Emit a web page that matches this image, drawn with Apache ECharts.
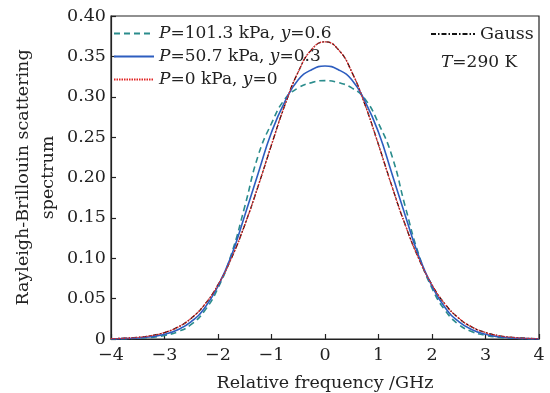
<!DOCTYPE html>
<html>
<head>
<meta charset="utf-8">
<script src="https://cdn.jsdelivr.net/npm/echarts@6/dist/echarts.min.js"></script>
<style>html,body{margin:0;padding:0;background:#fff}#c{width:550px;height:393px}</style>
</head>
<body>
<div id="c"></div>
<script>
var freq = [-4,-3.75,-3.5,-3.25,-3,-2.75,-2.5,-2.25,-2,-1.75,-1.5,-1.25,-1,-0.75,-0.5,-0.25,0,0.25,0.5,0.75,1,1.25,1.5,1.75,2,2.25,2.5,2.75,3,3.25,3.5,3.75,4];
var p101 = [0.0001,0.0004,0.0010,0.0020,0.0045,0.0090,0.0180,0.0350,0.0630,0.1050,0.1640,0.2270,0.2670,0.2970,0.3110,0.3175,0.3200,0.3175,0.3110,0.2970,0.2670,0.2270,0.1640,0.1050,0.0630,0.0350,0.0180,0.0090,0.0045,0.0020,0.0010,0.0004,0.0001];
var p50 = [0.0002,0.0005,0.0012,0.0027,0.0058,0.0115,0.0215,0.0385,0.0655,0.1030,0.1530,0.2050,0.2560,0.2940,0.3210,0.3335,0.3380,0.3335,0.3210,0.2940,0.2560,0.2050,0.1530,0.1030,0.0655,0.0385,0.0215,0.0115,0.0058,0.0027,0.0012,0.0005,0.0002];
var p0 = [0.0004,0.0009,0.0020,0.0041,0.0080,0.0147,0.0258,0.0427,0.0671,0.1000,0.1413,0.1893,0.2405,0.2897,0.3308,0.3584,0.3680,0.3584,0.3308,0.2897,0.2405,0.1893,0.1413,0.1000,0.0671,0.0427,0.0258,0.0147,0.0080,0.0041,0.0020,0.0009,0.0004];
var gauss = [0.0004,0.0009,0.0020,0.0041,0.0080,0.0147,0.0258,0.0427,0.0671,0.1000,0.1413,0.1893,0.2405,0.2897,0.3308,0.3584,0.3680,0.3584,0.3308,0.2897,0.2405,0.1893,0.1413,0.1000,0.0671,0.0427,0.0258,0.0147,0.0080,0.0041,0.0020,0.0009,0.0004];
var names = ['P=101.3 kPa, y=0.6','P=50.7 kPa, y=0.3','P=0 kPa, y=0','Gauss'];
var legendLabels = ['{i|P}=101.3 kPa, {i|y}=0.6','{i|P}=50.7 kPa, {i|y}=0.3','{i|P}=0 kPa, {i|y}=0'];

function pairs(ys){ return freq.map(function(x,i){ return [x, ys[i]]; }); }
var FONT = 'DejaVu Serif';
var TXT = '#222';
var FS = 17.5;
var LFS = 17;
var chart = echarts.init(document.getElementById('c'));
var richStyle = { i: { fontStyle: 'italic', fontFamily: FONT, fontSize: LFS, color: TXT } };
function lineSeries(name, ys, color, width, type, z){
  return { name: name, type: 'line', data: pairs(ys), symbol: 'none', showSymbol: false, smooth: true,
    lineStyle: { color: color, width: width, type: type }, itemStyle: { color: color }, z: z };
}
chart.setOption({
  animation: false,
  backgroundColor: '#fff',
  grid: { left: 111, right: 11, top: 16, bottom: 54, containLabel: false, outerBoundsMode: 'none',
    show: true, borderColor: '#222', borderWidth: 1.2, backgroundColor: 'transparent' },
  xAxis: {
    type: 'value', min: -4, max: 4, interval: 1,
    name: 'Relative frequency /GHz', nameLocation: 'middle', nameGap: 35, nameMoveOverlap: false,
    nameTextStyle: { fontFamily: FONT, fontSize: FS, color: TXT },
    axisLine: { onZero: false, lineStyle: { color: '#222', width: 1.2 } },
    axisTick: { inside: true, length: 5, lineStyle: { color: '#222', width: 1.2 } },
    axisLabel: { fontFamily: FONT, fontSize: FS, color: TXT, margin: 7,
      formatter: function(v){ return String(v).replace('-', '\u2212'); } },
    splitLine: { show: false }
  },
  yAxis: {
    type: 'value', min: 0, max: 0.4, interval: 0.05,
    name: 'Rayleigh-Brillouin scattering\nspectrum', nameLocation: 'middle', nameGap: 36, nameMoveOverlap: false,
    nameTextStyle: { fontFamily: FONT, fontSize: FS, color: TXT, lineHeight: 25, align: 'center', padding: [0, 0, 14, 0] },
    axisLine: { onZero: false, lineStyle: { color: '#222', width: 1.2 } },
    axisTick: { inside: true, length: 5, lineStyle: { color: '#222', width: 1.2 } },
    axisLabel: { fontFamily: FONT, fontSize: FS, color: TXT, margin: 5,
      formatter: function(v){ return v === 0 ? '0' : v.toFixed(2); } },
    splitLine: { show: false }
  },
  legend: [{
    data: [names[0], names[1], names[2]],
    orient: 'vertical', left: 113, top: 25, padding: 0, itemWidth: 40, itemHeight: 12, itemGap: 6,
    itemStyle: { opacity: 0 },
    textStyle: { fontFamily: FONT, fontSize: LFS, color: TXT, rich: richStyle },
    formatter: function(n){ return legendLabels[names.indexOf(n)]; }
  }, {
    data: [names[3]], orient: 'vertical', left: 430, top: 25, padding: 0, itemWidth: 44, itemHeight: 12,
    itemStyle: { opacity: 0 },
    textStyle: { fontFamily: FONT, fontSize: 17.5, color: TXT }
  }],
  graphic: [{
    type: 'text', left: 441, top: 54,
    style: { text: '{i|T}=290 K', font: LFS + 'px "DejaVu Serif"', fill: TXT, rich: richStyle }
  }],
  series: [
    lineSeries(names[3], gauss, '#111', 1.3, [5,2,1.5,2], 2),
    lineSeries(names[0], p101, '#2a8c8c', 1.6, [6,4], 3),
    lineSeries(names[1], p50, '#2d5dbf', 1.6, 'solid', 4),
    lineSeries(names[2], p0, '#e02424', 1.3, [1.5,1], 5)
  ]
});
</script>
</body>
</html>
